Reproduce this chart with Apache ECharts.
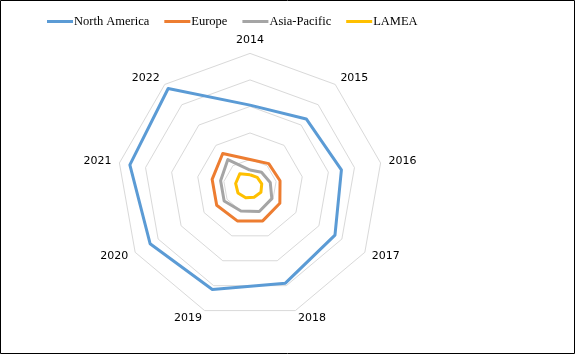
<!DOCTYPE html>
<html>
<head>
<meta charset="utf-8">
<script src="https://cdn.jsdelivr.net/npm/echarts@6/dist/echarts.min.js"></script>
<style>
html,body{margin:0;padding:0;background:#fff;}
#c{width:575px;height:354px;}
</style>
</head>
<body>
<div id="c"></div>
<script>
// Data (values as share of radar max)
const years = ['2014','2015','2016','2017','2018','2019','2020','2021','2022'];
const seriesNames = ['North America','Europe','Asia-Pacific','LAMEA'];
const northAmerica = [61, 66, 70, 74, 78, 83, 87, 92, 96];
const europe       = [20, 22, 23, 26, 28, 28, 29, 29, 32];
const asiaPacific  = [12, 13.5, 15.5, 19, 20.5, 20, 22.5, 22.5, 26];
const lamea        = [8.5, 8.5, 9, 9.5, 9, 9.5, 10.5, 11, 12];
const colors = ['#5b9bd5','#ed7d31','#a5a5a5','#ffc000'];
const axisMax = 100;

// ECharts radar goes counter-clockwise; reorder so years run clockwise from top
const order = [0].concat(years.map((_, i) => i).slice(1).reverse());
const reorder = arr => order.map(i => arr[i]);

const chart = echarts.init(document.getElementById('c'), null, {renderer:'canvas'});
const allData = [northAmerica, europe, asiaPacific, lamea];

chart.setOption({
  animation: false,
  backgroundColor: '#fff',
  color: colors,
  graphic: [{
    type: 'rect', shape: {x: 0.5, y: 0.5, width: 574, height: 353},
    style: {fill: 'none', stroke: '#000', lineWidth: 1}, silent: true
  }],
  legend: {
    top: 10, left: 42,
    icon: 'rect', itemWidth: 26, itemHeight: 3, itemGap: 15,
    textStyle: {fontFamily: 'Liberation Serif', fontSize: 12.5, color: '#000', padding: [1,0,0,-4]},
    data: seriesNames
  },
  radar: {
    center: [250, 186],
    radius: 132.6,
    shape: 'polygon',
    splitNumber: 5,
    startAngle: 90,
    indicator: reorder(years).map(y => ({name: y, min: 0, max: axisMax})),
    axisName: {color: '#000', fontFamily: 'DejaVu Sans', fontSize: 11, padding: [4,0,0,0]},
    nameGap: 8,
    axisLine: {show: false},
    axisTick: {show: false},
    axisLabel: {show: false},
    splitArea: {show: false},
    splitLine: {lineStyle: {color: '#d9d9d9', width: 1}}
  },
  series: [{
    type: 'radar',
    symbol: 'none',
    data: seriesNames.map((n, i) => ({
      name: n,
      value: reorder(allData[i]),
      lineStyle: {color: colors[i], width: 3},
      itemStyle: {color: colors[i]}
    }))
  }]
});
</script>
</body>
</html>
